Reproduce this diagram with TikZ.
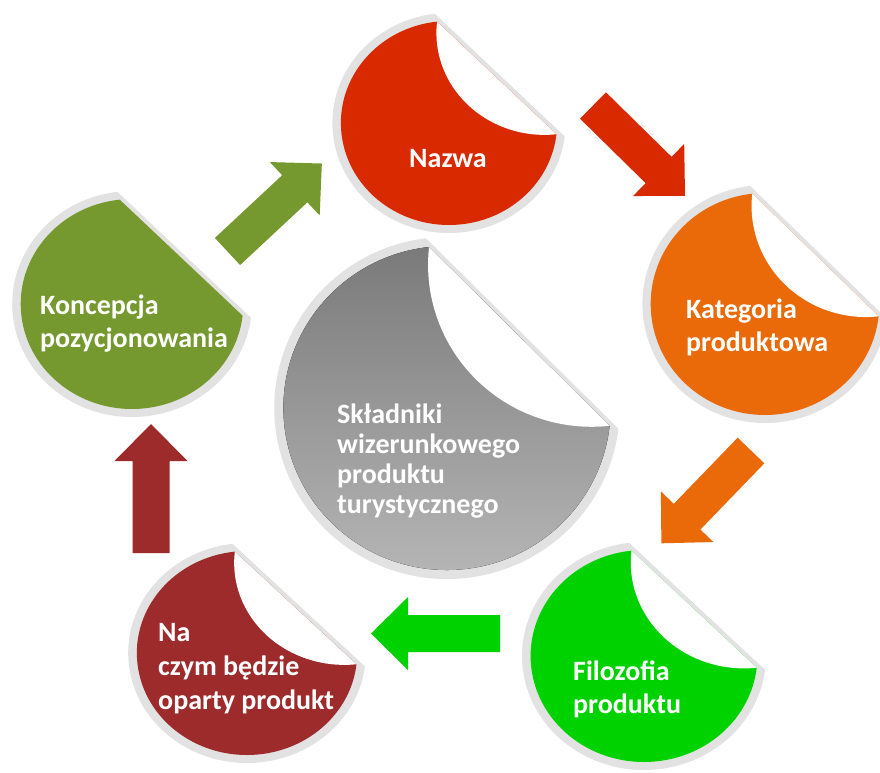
\documentclass[tikz,border=0pt]{standalone}
\usepackage{fontspec}
\setmainfont{Carlito}
\definecolor{ringgrey}{RGB}{226,226,226}
\definecolor{cRed}{RGB}{216,41,0}
\definecolor{cOrange}{RGB}{234,106,10}
\definecolor{cLime}{RGB}{0,210,0}
\definecolor{cMaroon}{RGB}{157,43,43}
\definecolor{cOlive}{RGB}{118,153,47}
\definecolor{gTop}{RGB}{122,122,122}
\definecolor{gBot}{RGB}{182,182,182}
% #1 cx, #2 cy (image px), #3 radius, #4 xscale, #5 fill options, #6 curl (1/0), #7 ring width
\newcommand{\peelsticker}[7]{%
  \begin{scope}[shift={(#1pt,-#2pt)}, xscale=#4]
    \pgfmathsetmacro\stR{#3}
    \pgfmathsetmacro\stD{\stR*cos(52)}
    \pgfmathsetmacro\stRi{\stR-#7}
    \pgfmathsetmacro\stDi{\stD-4}
    \pgfmathsetmacro\stTo{acos(\stD/\stR)}
    \pgfmathsetmacro\stTi{acos(\stDi/\stRi)}
    \fill[ringgrey] (45+\stTo:\stR pt) arc[start angle=45+\stTo, end angle=405-\stTo, radius=\stR pt] -- cycle;
    \fill[#5] (45+\stTi:\stRi pt) arc[start angle=45+\stTi, end angle=405-\stTi, radius=\stRi pt] -- cycle;
    \ifnum#6=1
      \fill[white] (45+\stTi:\stRi pt) arc[start angle=225-\stTi, end angle=225+\stTi, radius=\stRi pt] -- cycle;
    \fi
  \end{scope}}
\tikzset{
  lbl/.style={text=white, font=\fontsize{28}{33}\selectfont\bfseries, align=left, inner sep=0pt},
  blockarrow/.pic={\fill (0,-18.5pt) -- (92pt,-18.5pt) -- (92pt,-36.5pt) -- (129pt,0pt) -- (92pt,36.5pt) -- (92pt,18.5pt) -- (0,18.5pt) -- cycle;}
}
\begin{document}
\begin{tikzpicture}
\fill[white] (0,0) rectangle (880pt,-772pt);
\useasboundingbox (0,0) rectangle (880pt,-772pt);
% stickers
\peelsticker{449}{123}{110}{1.06}{cRed}{1}{8}
\peelsticker{765}{304}{119}{1.03}{cOrange}{1}{8}
\peelsticker{644}{656}{114}{1.07}{cLime}{1}{8}
\peelsticker{247}{653}{110}{1.08}{cMaroon}{1}{8}
\peelsticker{132}{304}{113}{1.06}{cOlive}{0}{8}
\peelsticker{447}{408}{171}{1.01}{top color=gTop,bottom color=gBot}{1}{9}
% labels
\node[lbl, anchor=base] (nazwa) at (448pt,-167pt) {Nazwa};
\node[lbl, anchor=west] (kat) at (686pt,-327pt) {Kategoria\\produktowa};
\node[lbl, anchor=west, font=\fontsize{28}{30}\selectfont\bfseries] (skl) at (337pt,-461pt) {Składniki\\wizerunkowego\\produktu\\turystycznego};
\node[lbl, anchor=west] (konc) at (40pt,-324pt) {Koncepcja\\pozycjonowania};
\node[lbl, anchor=west, font=\fontsize{28}{34}\selectfont\bfseries] (naczym) at (158pt,-669pt) {Na\\czym będzie\\oparty produkt};
\node[lbl, anchor=west] (filo) at (573pt,-689pt) {Filozofia\\produktu};
% arrows
\pic[fill=cOlive, rotate=43] at (227.5pt,-251.5pt) {blockarrow};
\pic[fill=cRed, rotate=-44.5] at (593pt,-105.5pt) {blockarrow};
\pic[fill=cOrange, rotate=-134] at (751pt,-450.5pt) {blockarrow};
\pic[fill=cLime, rotate=180] at (500pt,-633.5pt) {blockarrow};
\pic[fill=cMaroon, rotate=90] at (151pt,-553pt) {blockarrow};
\end{tikzpicture}
\end{document}
